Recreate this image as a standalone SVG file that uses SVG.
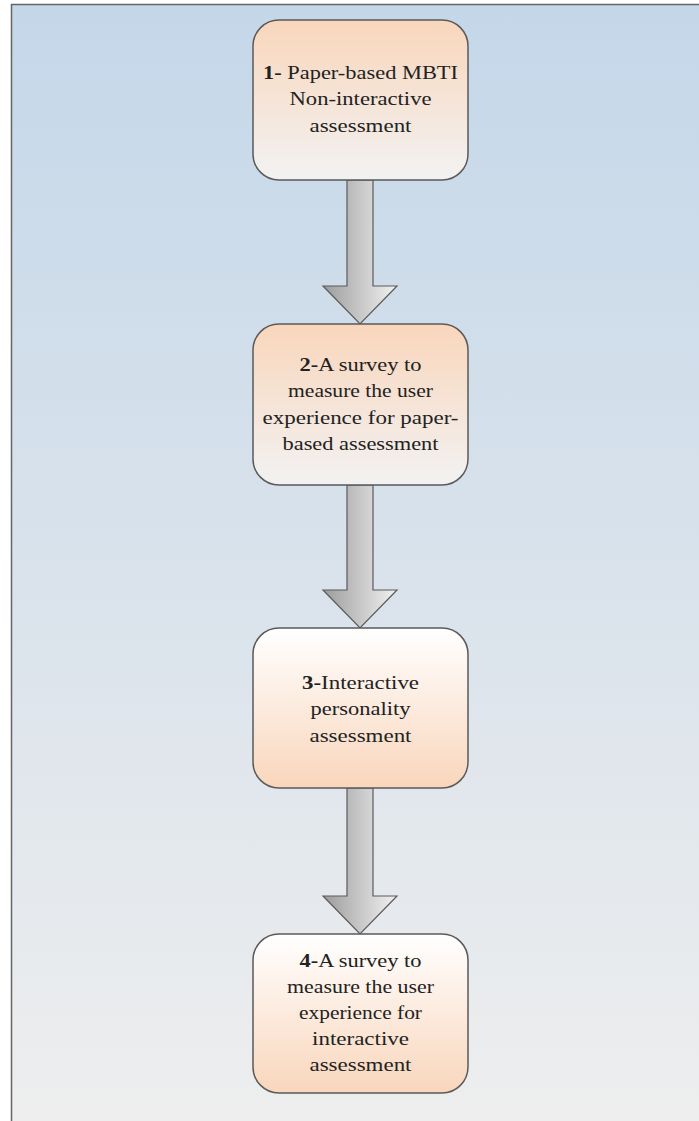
<svg xmlns="http://www.w3.org/2000/svg" width="699" height="1121" viewBox="0 0 699 1121">
<defs>
<linearGradient id="bg" x1="0" y1="0" x2="0" y2="1">
<stop offset="0" stop-color="#c4d7e9"/>
<stop offset="1" stop-color="#eeeeee"/>
</linearGradient>
<linearGradient id="peachDown" x1="0" y1="0" x2="0" y2="1">
<stop offset="0" stop-color="#f9d6bc"/>
<stop offset="1" stop-color="#f2f2f2"/>
</linearGradient>
<linearGradient id="peachUp" x1="0" y1="0" x2="0" y2="1">
<stop offset="0" stop-color="#ffffff"/>
<stop offset="1" stop-color="#f9d6bc"/>
</linearGradient>
<linearGradient id="arrowFill" x1="0" y1="0" x2="1" y2="0">
<stop offset="0" stop-color="#9c9c9c"/>
<stop offset="1" stop-color="#f2f2f2"/>
</linearGradient>
<style>
.box{stroke:#5a5a5a;stroke-width:1.5}
.arrow{fill:url(#arrowFill);stroke:#5a5a5a;stroke-width:1.2;stroke-linejoin:miter}
.t{font-family:'Liberation Serif','Times New Roman',serif;font-size:19px;fill:#222;text-anchor:middle}
.b{font-weight:bold}
</style>
</defs>
<rect x="11.5" y="4.5" width="700" height="1130" fill="url(#bg)" stroke="#666" stroke-width="1.5"/>
<g id="connectors">
<path class="arrow" d="M347,180 L373,180 L373,286 L397,286 L360,324 L323,286 L347,286 Z"/>
<path class="arrow" d="M347,485 L373,485 L373,590 L397,590 L360,628 L323,590 L347,590 Z"/>
<path class="arrow" d="M347,788 L373,788 L373,896 L397,896 L360,934 L323,896 L347,896 Z"/>
</g>
<g id="node1">
<rect class="box" x="253" y="20" width="215" height="160" rx="26" fill="url(#peachDown)"/>
<g transform="translate(360.5,0) scale(1.2,1)">
<text class="t" x="0" y="79" textLength="162.5" lengthAdjust="spacingAndGlyphs"><tspan class="b">1-</tspan> Paper-based MBTI</text>
<text class="t" x="0" y="105.5" textLength="118.3" lengthAdjust="spacingAndGlyphs">Non-interactive</text>
<text class="t" x="0" y="132" textLength="85" lengthAdjust="spacingAndGlyphs">assessment</text>
</g>
</g>
<g id="node2">
<rect class="box" x="253" y="324" width="215" height="161" rx="26" fill="url(#peachDown)"/>
<g transform="translate(360.5,0) scale(1.2,1)">
<text class="t" x="0" y="371" textLength="101.7" lengthAdjust="spacingAndGlyphs"><tspan class="b">2-</tspan>A survey to</text>
<text class="t" x="0" y="397.5" textLength="120.8" lengthAdjust="spacingAndGlyphs">measure the user</text>
<text class="t" x="0" y="424" textLength="163.3" lengthAdjust="spacingAndGlyphs">experience for paper-</text>
<text class="t" x="0" y="450" textLength="130" lengthAdjust="spacingAndGlyphs">based assessment</text>
</g>
</g>
<g id="node3">
<rect class="box" x="253" y="628" width="215" height="160" rx="26" fill="url(#peachUp)"/>
<g transform="translate(360.5,0) scale(1.2,1)">
<text class="t" x="0" y="689" textLength="97.5" lengthAdjust="spacingAndGlyphs"><tspan class="b">3-</tspan>Interactive</text>
<text class="t" x="0" y="715.5" textLength="83.3" lengthAdjust="spacingAndGlyphs">personality</text>
<text class="t" x="0" y="742" textLength="85" lengthAdjust="spacingAndGlyphs">assessment</text>
</g>
</g>
<g id="node4">
<rect class="box" x="253" y="934" width="215" height="159" rx="26" fill="url(#peachUp)"/>
<g transform="translate(360.5,0) scale(1.2,1)">
<text class="t" x="0" y="967" textLength="101.7" lengthAdjust="spacingAndGlyphs"><tspan class="b">4-</tspan>A survey to</text>
<text class="t" x="0" y="993" textLength="122.5" lengthAdjust="spacingAndGlyphs">measure the user</text>
<text class="t" x="0" y="1019" textLength="102.5" lengthAdjust="spacingAndGlyphs">experience for</text>
<text class="t" x="0" y="1045" textLength="80.8" lengthAdjust="spacingAndGlyphs">interactive</text>
<text class="t" x="0" y="1071" textLength="85" lengthAdjust="spacingAndGlyphs">assessment</text>
</g>
</g>
</svg>
